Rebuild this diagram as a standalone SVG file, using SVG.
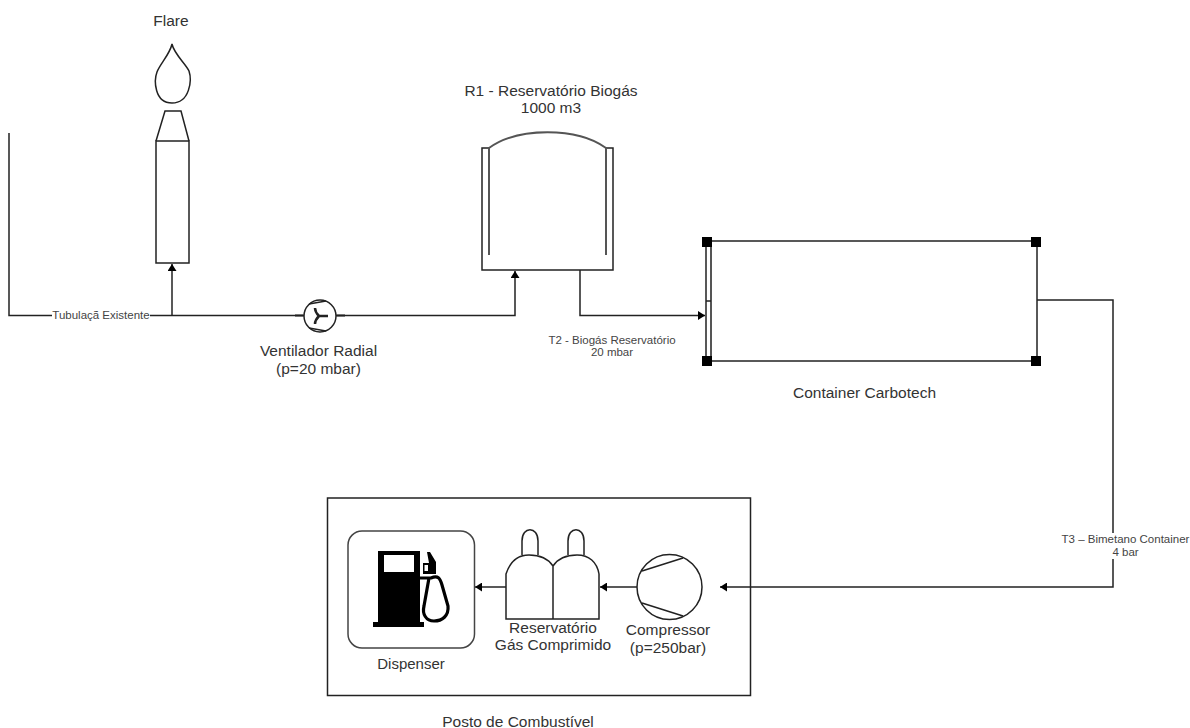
<svg xmlns="http://www.w3.org/2000/svg" width="1190" height="728" viewBox="0 0 1190 728">
<defs>
<style>
.l{fill:none;stroke:#222;stroke-width:1.5}
.g{fill:none;stroke:#555;stroke-width:2}
.t{font-family:"Liberation Sans",Arial,sans-serif;font-size:15.5px;fill:#333;text-anchor:middle}
.s{font-family:"Liberation Sans",Arial,sans-serif;font-size:11.5px;fill:#444;text-anchor:middle}
</style>
<marker id="a" viewBox="0 0 7 9" refX="7" refY="4.5" markerWidth="7" markerHeight="9" markerUnits="userSpaceOnUse" orient="auto"><path d="M0 0L7 4.5L0 9z" fill="#000"/></marker>
</defs>
<rect width="1190" height="728" fill="#fff"/>
<g id="connectors">
<path class="l" d="M9 133V315.500H303"/>
<path class="l" d="M172 315.500V264" marker-end="url(#a)"/>
<path class="l" d="M337 315.500H515V271" marker-end="url(#a)"/>
<path class="l" d="M580 270V315.500H705" marker-end="url(#a)"/>
<path class="l" d="M1037 300H1113V587H720" marker-end="url(#a)"/>
<path class="l" d="M637 587H600" marker-end="url(#a)"/>
<path class="l" d="M506 587H475" marker-end="url(#a)"/>
</g>
<g id="label-tubulacao"><rect x="52" y="309" width="98" height="13" fill="#fff"/><text class="s" x="101" y="319">Tubulaçã Existente</text></g>
<g id="flare">
<text class="t" x="171" y="26">Flare</text>
<path class="l" d="M172 44C174 54 186 64 189 71C192 80 190 103 172 103C154 103 154 80 157 72C160 64 170 54 172 44Z"/>
<path class="l" d="M156 141L165 111H181L189 141"/>
<rect class="l" x="156" y="141" width="33" height="122"/>
</g>
<g id="ventilador">
<path d="M295 315.500H304M336 315.500H345" fill="none" stroke="#222" stroke-width="2.200"/>
<circle class="l" cx="320" cy="316" r="16"/>
<path class="l" d="M309 304L326 301M309 328L326 331"/>
<path d="M319 316C316 313 315 311 315 308M319 316H328M319 316C316 319 315 321 315 324" fill="none" stroke="#222" stroke-width="2.500"/>
<text class="t" x="318.500" y="356">Ventilador Radial</text>
<text class="t" x="318.500" y="374">(p=20 mbar)</text>
</g>
<g id="r1">
<text class="t" x="551" y="96">R1 - Reservatório Biogás</text>
<text class="t" x="551" y="113">1000 m3</text>
<path class="l" d="M489 148H482V270H613V148H606"/>
<path class="g" d="M489 255V148C518 127 577 127 606 148V255"/>
</g>
<g id="t2"><text class="s" x="612" y="344">T2 - Biogás Reservatório</text><text class="s" x="612" y="356">20 mbar</text></g>
<g id="container">
<rect class="l" x="706" y="241" width="331" height="120"/>
<path class="g" d="M711 241V361"/>
<path class="l" d="M706 301H711"/>
<rect x="702" y="237" width="10" height="10" fill="#000"/><rect x="1031" y="237" width="10" height="10" fill="#000"/>
<rect x="702" y="356" width="10" height="10" fill="#000"/><rect x="1031" y="356" width="10" height="10" fill="#000"/>
<text class="t" x="864.500" y="398">Container Carbotech</text>
</g>
<g id="t3"><rect x="1062" y="533" width="128" height="26" fill="#fff"/><text class="s" x="1125.500" y="543">T3 – Bimetano Container</text><text class="s" x="1125.500" y="556">4 bar</text></g>
<g id="posto">
<rect class="l" x="327.500" y="498" width="423" height="197.500"/>
<text class="t" x="518" y="727">Posto de Combustível</text>
</g>
<g id="dispenser">
<rect x="348" y="531" width="126.500" height="117" rx="14" fill="none" stroke="#444" stroke-width="1.500"/>
<path fill="#000" fill-rule="evenodd" d="M378 551H420V622H424V627H373V622H378ZM384 555V572H414V555Z"/>
<path d="M420 578H431C438 575 440 578 442 585L448 606C449 616 442 621 434 621C426 621 422 614 424 606L429 578" fill="none" stroke="#000" stroke-width="3.200"/>
<path fill="#000" fill-rule="evenodd" d="M423 563H429L427 552L430 552L436 562V574H423ZM424.500 565V571H428V565Z"/>
<text class="t" x="411" y="669" font-size="15" style="font-size:15px">Dispenser</text>
</g>
<g id="reservatorio">
<path class="l" d="M506 619V574C510 562 518 555 529 555C541 555 549 560 553 566C557 560 565 555 577 555C589 555 597 562 599 574V619ZM553 566V619"/>
<path class="l" d="M522 555V541C522 526 538 526 538 541V555M568 555V541C568 526 584 526 584 541V555"/>
<text class="t" x="553" y="633">Reservatório</text>
<text class="t" x="553" y="650">Gás Comprimido</text>
</g>
<g id="compressor">
<circle class="l" cx="669.500" cy="587" r="32.500"/>
<path class="l" d="M642 571L683 558M642 603L683 616"/>
<text class="t" x="668" y="635">Compressor</text>
<text class="t" x="668" y="653">(p=250bar)</text>
</g>
</svg>
